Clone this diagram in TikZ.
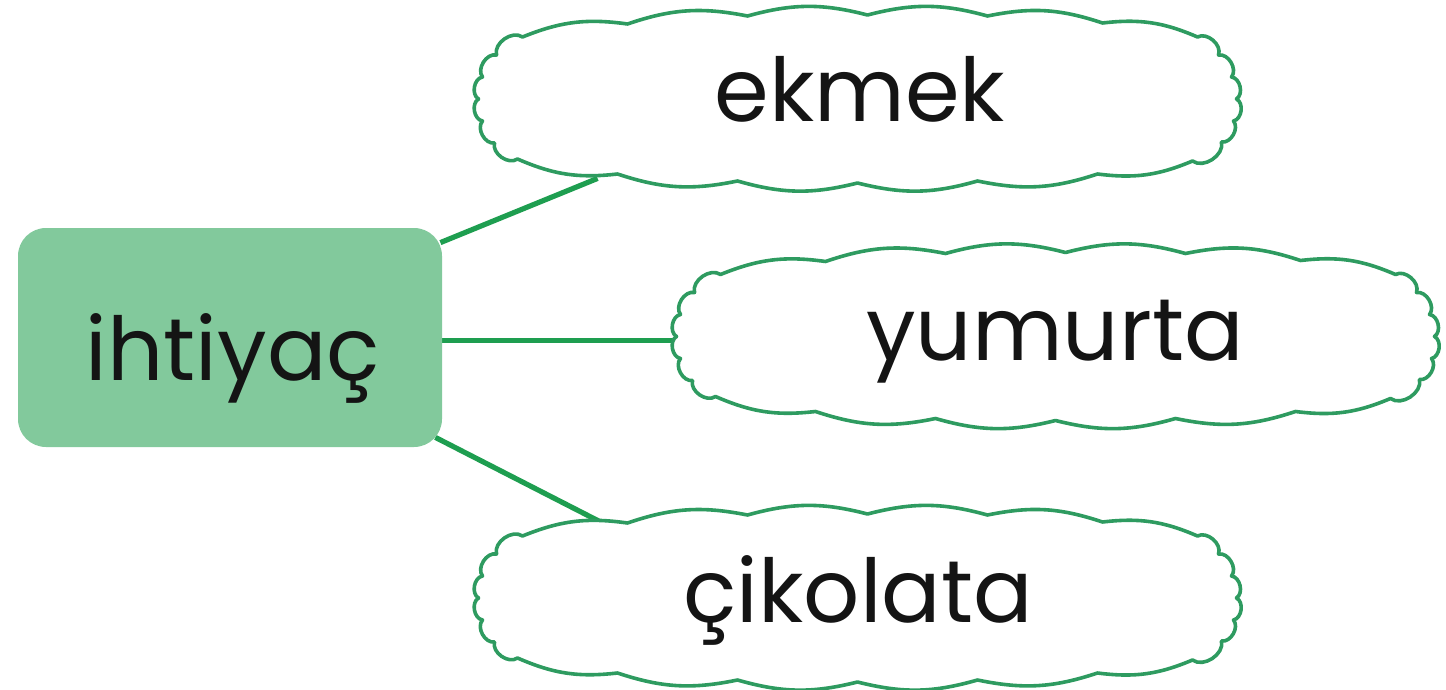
\documentclass[tikz,border=0pt]{standalone}
\usepackage{fontspec}
\setmainfont{Poppins}
\usetikzlibrary{calc}
\pgfdeclarelayer{bg}
\pgfsetlayers{bg,main}
\definecolor{boxgreen}{HTML}{82C99C}
\definecolor{linegreen}{HTML}{1E9E50}
\definecolor{cloudgreen}{HTML}{2E9B60}
\definecolor{txt}{HTML}{141414}
\tikzset{
 lbl/.style={font=\fontsize{44}{50}\selectfont, text=txt, inner sep=0pt, anchor=base},
 cloudbox/.style={draw=none, inner sep=0pt, minimum width=387.5pt, minimum height=91pt},
 mainbox/.style={fill=boxgreen, draw=none, rounded corners=14pt, minimum width=212pt, minimum height=109.5pt, inner sep=0pt},
 conn/.style={draw=linegreen, line width=2.6pt},
 cloudline/.style={draw=cloudgreen, line width=1.8pt, fill=white, line join=round},
 tb/.style={bend left=15},
 sc/.style={bend left=70},
 cloudpic/.pic={
  \path[cloudline] (-335,-62)
    to[tb] (-230,-75) to[tb] (-110,-83) to[tb] (10,-84) to[tb] (130,-83)
    to[tb] (245,-76) to[tb] (340,-62)
    to[sc] (361,-44) to[sc] (374,-22) to[sc] (379,0) to[sc] (376,22)
    to[sc] (364,43) to[sc] (335,62)
    to[tb] (240,75) to[tb] (120,82) to[tb] (0,84) to[tb] (-120,82)
    to[tb] (-240,75) to[tb] (-340,60)
    to[sc] (-363,44) to[sc] (-375,22) to[sc] (-379,0) to[sc] (-375,-22)
    to[sc] (-361,-44) to[sc] (-335,-62) -- cycle;
 }
}
\begin{document}
\begin{tikzpicture}[x=0.5pt,y=-0.5pt]
\useasboundingbox (0,0) rectangle (1446,690);
\node[mainbox] (box) at (230,337.5) {};
\node[cloudbox] (c1) at (857.5,99) {};
\node[cloudbox] (c2) at (1055.5,336.5) {};
\node[cloudbox] (c3) at (857.5,598) {};
\begin{pgfonlayer}{bg}
\draw[conn] ($(box.north east)+(-2,15)$) -- ($(c1.south west)+(128,-12)$);
\draw[conn] ($(box.east)+(-2,3)$) -- ($(c2.west)+(25,4)$);
\draw[conn] ($(box.south east)+(-7,-10)$) -- ($(c3.north west)+(140,20)$);
\pic at (c1.center) {cloudpic};
\pic at (c2.center) {cloudpic};
\pic at (c3.center) {cloudpic};
\end{pgfonlayer}
\node[lbl] (t0) at (233,380) {ihtiyaç};
\node[lbl] (t1) at (860,122) {ekmek};
\node[lbl] (t2) at (1055,360) {yumurta};
\node[lbl] (t3) at (858,622) {çikolata};
\end{tikzpicture}
\end{document}
